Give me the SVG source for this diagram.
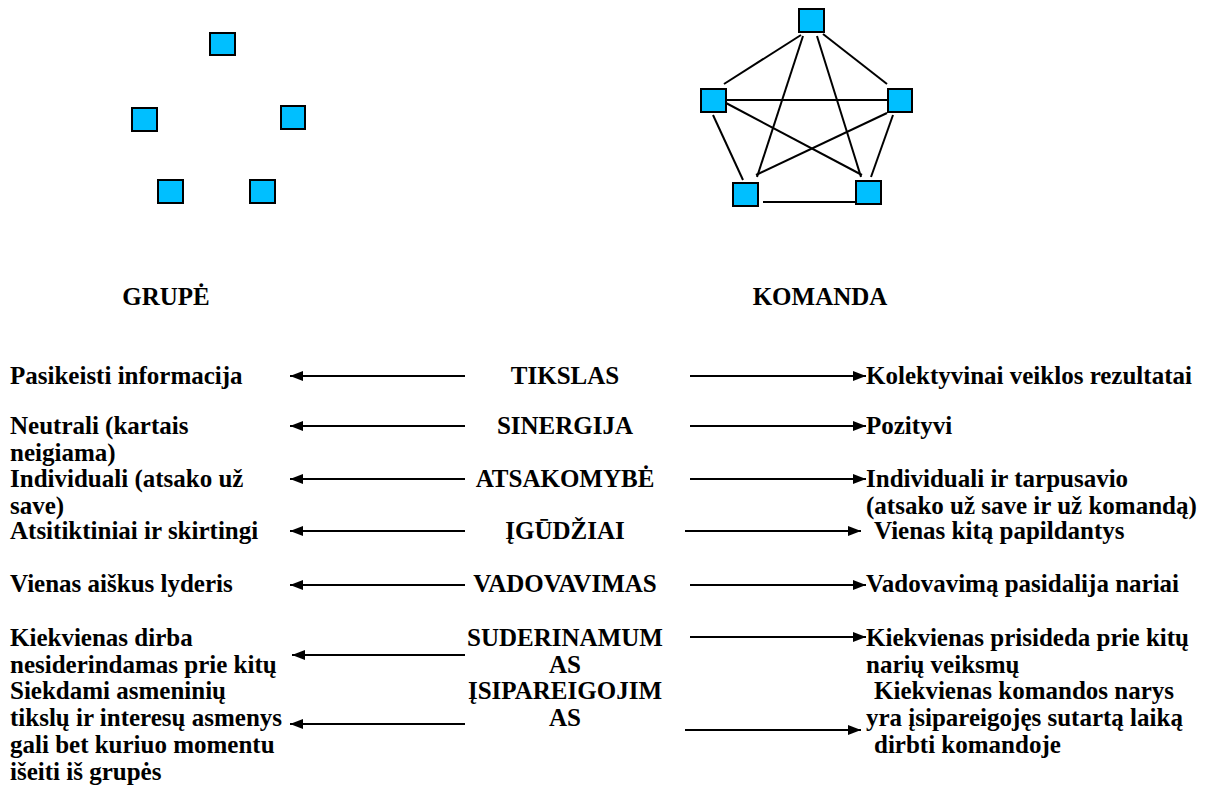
<svg xmlns="http://www.w3.org/2000/svg" width="1210" height="802" viewBox="0 0 1210 802">
<style>
.sq{fill:#00BFFF;stroke:#000;stroke-width:2}
.ln{stroke:#000;stroke-width:2;fill:none}
.t{font-family:'Liberation Serif','Times New Roman',serif;font-weight:700;font-size:25px;fill:#000}
.c{text-anchor:middle}
</style>
<defs>
<marker id="ah" viewBox="0 0 13 10" refX="13" refY="5" markerWidth="13" markerHeight="10" markerUnits="userSpaceOnUse" orient="auto"><path d="M0,0 L13,5 L0,10 Z" fill="#000"/></marker>
</defs>
<rect width="1210" height="802" fill="#fff"/>
<g id="grupe">
<rect id="g1" class="sq" x="210" y="33" width="25" height="22"/>
<rect id="g2" class="sq" x="132" y="108" width="25" height="23"/>
<rect id="g3" class="sq" x="281" y="106" width="24" height="23"/>
<rect id="g4" class="sq" x="158" y="180" width="25" height="23"/>
<rect id="g5" class="sq" x="250" y="180" width="25" height="23"/>
</g>
<g id="komanda-links">
<line class="ln" x1="801" y1="35" x2="724" y2="84"/>
<line class="ln" x1="823" y1="34" x2="887" y2="84"/>
<line class="ln" x1="803" y1="36" x2="757" y2="177"/>
<line class="ln" x1="817" y1="36" x2="861" y2="177"/>
<line class="ln" x1="726" y1="100" x2="888" y2="100"/>
<line class="ln" x1="726" y1="103" x2="862" y2="175"/>
<line class="ln" x1="887" y1="113" x2="756" y2="175"/>
<line class="ln" x1="713" y1="115" x2="743" y2="180"/>
<line class="ln" x1="893" y1="115" x2="871" y2="177"/>
<line class="ln" x1="763" y1="202" x2="856" y2="202"/>
</g>
<g id="komanda">
<rect id="k1" class="sq" x="799" y="9" width="25" height="23"/>
<rect id="k2" class="sq" x="701" y="89" width="25" height="23"/>
<rect id="k3" class="sq" x="888" y="89" width="24" height="23"/>
<rect id="k4" class="sq" x="733" y="183" width="25" height="23"/>
<rect id="k5" class="sq" x="856" y="181" width="25" height="23"/>
</g>
<g id="titles">
<text class="t c" x="166" y="305">GRUPĖ</text>
<text class="t c" x="820" y="305">KOMANDA</text>
</g>
<g id="connectors">
<line class="ln" x1="465" y1="376" x2="290" y2="376" marker-end="url(#ah)"/>
<line class="ln" x1="690" y1="376" x2="866" y2="376" marker-end="url(#ah)"/>
<line class="ln" x1="465" y1="426" x2="290" y2="426" marker-end="url(#ah)"/>
<line class="ln" x1="690" y1="426" x2="866" y2="426" marker-end="url(#ah)"/>
<line class="ln" x1="465" y1="479" x2="290" y2="479" marker-end="url(#ah)"/>
<line class="ln" x1="690" y1="479" x2="866" y2="479" marker-end="url(#ah)"/>
<line class="ln" x1="465" y1="531" x2="290" y2="531" marker-end="url(#ah)"/>
<line class="ln" x1="685" y1="531" x2="861" y2="531" marker-end="url(#ah)"/>
<line class="ln" x1="465" y1="585" x2="290" y2="585" marker-end="url(#ah)"/>
<line class="ln" x1="690" y1="585" x2="866" y2="585" marker-end="url(#ah)"/>
<line class="ln" x1="465" y1="655" x2="292" y2="655" marker-end="url(#ah)"/>
<line class="ln" x1="690" y1="637" x2="866" y2="637" marker-end="url(#ah)"/>
<line class="ln" x1="465" y1="724" x2="290" y2="724" marker-end="url(#ah)"/>
<line class="ln" x1="685" y1="730" x2="861" y2="730" marker-end="url(#ah)"/>
</g>
<g id="left-texts">
<text class="t" x="10" y="384">Pasikeisti informacija</text>
<text class="t" x="10" y="434">Neutrali (kartais<tspan x="10" dy="27">neigiama)</tspan></text>
<text class="t" x="10" y="487">Individuali (atsako už<tspan x="10" dy="27">save)</tspan></text>
<text class="t" x="10" y="539">Atsitiktiniai ir skirtingi</text>
<text class="t" x="10" y="592">Vienas aiškus lyderis</text>
<text class="t" x="10" y="646">Kiekvienas dirba<tspan x="10" dy="27">nesiderindamas prie kitų</tspan></text>
<text class="t" x="10" y="699">Siekdami asmeninių<tspan x="10" dy="27">tikslų ir interesų asmenys</tspan><tspan x="10" dy="27">gali bet kuriuo momentu</tspan><tspan x="10" dy="27">išeiti iš grupės</tspan></text>
</g>
<g id="center-texts">
<text class="t c" x="565" y="384">TIKSLAS</text>
<text class="t c" x="565" y="434">SINERGIJA</text>
<text class="t c" x="565" y="487">ATSAKOMYBĖ</text>
<text class="t c" x="565" y="539">ĮGŪDŽIAI</text>
<text class="t c" x="565" y="592">VADOVAVIMAS</text>
<text class="t c" x="565" y="646">SUDERINAMUM<tspan x="565" dy="27">AS</tspan></text>
<text class="t c" x="565" y="699">ĮSIPAREIGOJIM<tspan x="565" dy="27">AS</tspan></text>
</g>
<g id="right-texts">
<text class="t" x="866" y="384">Kolektyvinai veiklos rezultatai</text>
<text class="t" x="866" y="434">Pozityvi</text>
<text class="t" x="866" y="487">Individuali ir tarpusavio<tspan x="866" dy="27">(atsako už save ir už komandą)</tspan></text>
<text class="t" x="874" y="539">Vienas kitą papildantys</text>
<text class="t" x="866" y="592">Vadovavimą pasidalija nariai</text>
<text class="t" x="866" y="646">Kiekvienas prisideda prie kitų<tspan x="866" dy="27">narių veiksmų</tspan></text>
<text class="t" x="874" y="699">Kiekvienas komandos narys<tspan x="866" dy="27">yra įsipareigojęs sutartą laiką</tspan><tspan x="874" dy="27">dirbti komandoje</tspan></text>
</g>
</svg>
